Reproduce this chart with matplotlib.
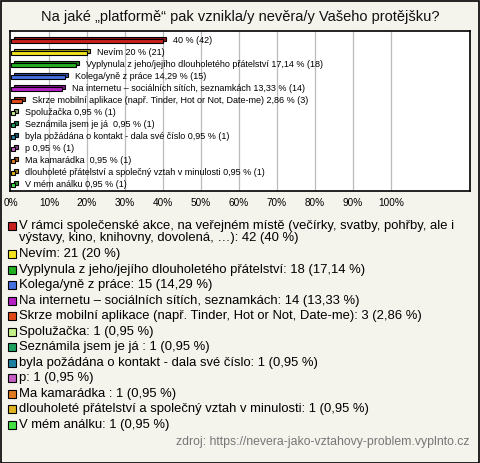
import numpy as np
import matplotlib.pyplot as plt
from matplotlib.patches import Rectangle
from matplotlib.transforms import ScaledTranslation

plt.rcParams['font.family'] = ['Liberation Sans', 'DejaVu Sans']

title = "Na jaké \u201eplatformě\u201c pak vznikla/y nevěra/y Vašeho protějšku?"

# bar label names (first one has no name on the bar)
bar_names = [
    "",
    "Nevím",
    "Vyplynula z jeho/jejího dlouholetého přátelství",
    "Kolega/yně z práce",
    "Na internetu \u2013 sociálních sítích, seznamkách",
    "Skrze mobilní aplikace (např. Tinder, Hot or Not, Date-me)",
    "Spolužačka",
    "Seznámila jsem je já ",
    "byla požádána o kontakt - dala své číslo",
    "p",
    "Ma kamarádka ",
    "dlouholeté přátelství a společný vztah v minulosti",
    "V mém análku",
]
legend_names = [
    "V rámci společenské akce, na veřejném místě (večírky, svatby, pohřby, ale i\nvýstavy, kino, knihovny, dovolená, \u2026)",
    "Nevím",
    "Vyplynula z jeho/jejího dlouholetého přátelství",
    "Kolega/yně z práce",
    "Na internetu \u2013 sociálních sítích, seznamkách",
    "Skrze mobilní aplikace (např. Tinder, Hot or Not, Date-me)",
    "Spolužačka",
    "Seznámila jsem je já ",
    "byla požádána o kontakt - dala své číslo",
    "p",
    "Ma kamarádka ",
    "dlouholeté přátelství a společný vztah v minulosti",
    "V mém análku",
]
counts = [42, 21, 18, 15, 14, 3, 1, 1, 1, 1, 1, 1, 1]
pct = [40, 20, 17.14, 14.29, 13.33, 2.86, 0.95, 0.95, 0.95, 0.95, 0.95, 0.95, 0.95]
colors = ['#C8201E', '#F2E31E', '#22B022', '#4470E0', '#B420C4', '#E04818',
          '#C4F088', '#20A060', '#2080A0', '#C460C4', '#E07A20', '#E0B420', '#44E044']

W, H = 480, 463
bg = '#F4F3EC'
fig = plt.figure(figsize=(W / 100, H / 100), dpi=100, facecolor=bg)


def fx(x):
    return x / W


def fy(y):
    return 1 - y / H


def fmt(v):
    s = ('%.2f' % v).rstrip('0').rstrip('.')
    return s.replace('.', ',')


# outer frame
fig.patches.append(Rectangle((0.5 / W, 0.5 / H), 1 - 1.5 / W, 1 - 1.5 / H,
                             transform=fig.transFigure, fill=False,
                             edgecolor='black', lw=1.2))

fig.text(0.5, fy(17), title, ha='center', va='center', fontsize=10.5, color='#111111')

ax = fig.add_axes([fx(10), fy(191), fx(460), 160 / H])
ax.set_facecolor('white')
ax.set_xlim(-0.26, 120.8)
ax.set_ylim(12.5, -0.833)
for s in ax.spines.values():
    s.set_linewidth(1.2)
ax.set_xticks([])
ax.set_yticks([])
for g in range(10, 101, 10):
    ax.axvline(g, color='#BBBBBB', lw=0.9, zorder=0)

y = np.arange(len(pct))
dx, dy, h = 0.8, 0.17, 0.4
darker = [tuple(c * 0.7 for c in plt.matplotlib.colors.to_rgb(col)) for col in colors]
ax.barh(y - dy, pct, left=dx, height=h, color=darker, edgecolor='black', lw=0.8, zorder=2)
ax.barh(y, pct, height=h, color=colors, edgecolor='black', lw=0.8, zorder=3)

off = ScaledTranslation(7 / 100, 0, fig.dpi_scale_trans)
for i in range(len(pct)):
    lab = (bar_names[i] + ' ' if bar_names[i] else '') + '%s %% (%d)' % (fmt(pct[i]), counts[i])
    ax.text(pct[i] + dx, y[i] - 0.05, lab, ha='left', va='center', fontsize=6.5,
            transform=ax.transData + off, zorder=4)

for g in range(0, 101, 10):
    ax.text(g, -0.075, '%d%%' % g, ha='center', va='center', fontsize=7.2,
            transform=ax.get_xaxis_transform())

# legend
ly = [226, 254, 270, 285, 301, 316, 332, 347, 363, 378, 394, 409, 425]
for i in range(len(pct)):
    fig.patches.append(Rectangle((fx(8), fy(ly[i] + 4)), 8 / W, 8 / H,
                                 transform=fig.transFigure, facecolor=colors[i],
                                 edgecolor='black', lw=0.8))
    txt = legend_names[i].rstrip() if i not in (7, 10) else legend_names[i]
    fig.text(fx(19), fy(ly[i] - 6), '%s: %d (%s %%)' % (txt, counts[i], fmt(pct[i])),
             ha='left', va='top', fontsize=9.4, linespacing=1.0)

fig.text(fx(470), fy(442), 'zdroj: https://nevera-jako-vztahovy-problem.vyplnto.cz',
         ha='right', va='center', fontsize=8.8, color='#777777')

fig.savefig('out.png', dpi=100, facecolor=bg)
